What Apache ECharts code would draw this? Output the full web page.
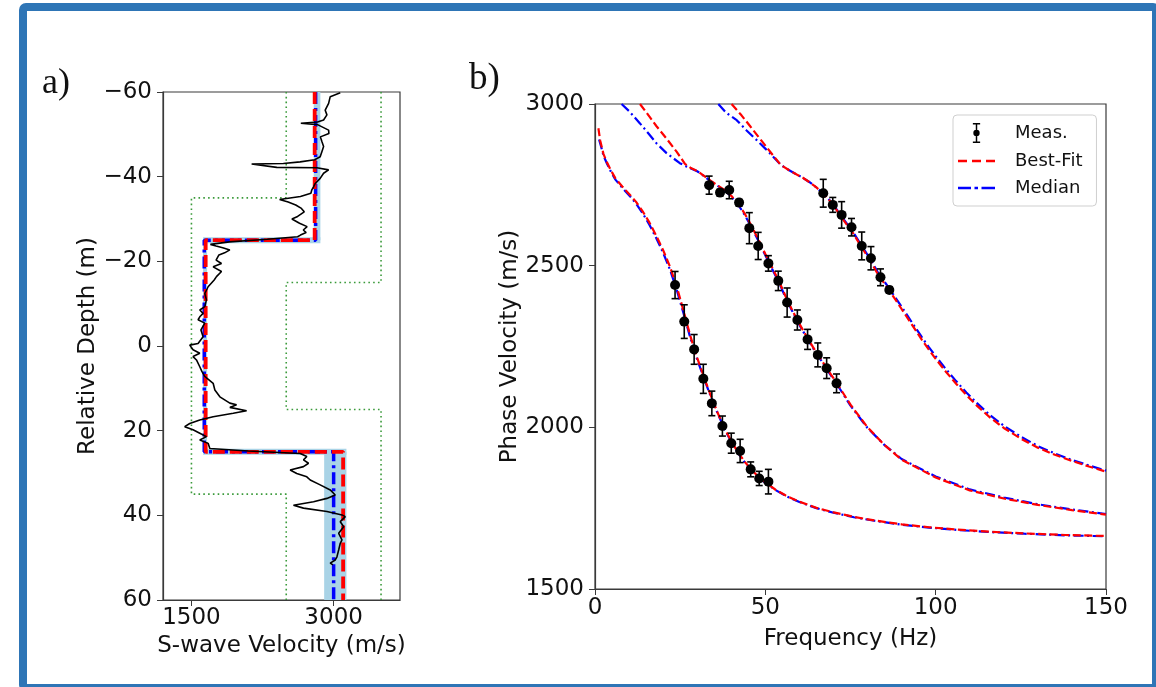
<!DOCTYPE html>
<html><head><meta charset="utf-8">
<script src="https://cdn.jsdelivr.net/npm/echarts@6/dist/echarts.min.js"></script>
<style>
html,body{margin:0;padding:0;background:#fff;}
#chart{position:absolute;left:0;top:0;width:1156px;height:687px;}
#frame{position:absolute;left:19px;top:3px;width:1141px;height:689px;box-sizing:border-box;border:8px solid #2E75B6;border-radius:7px;pointer-events:none;}
</style></head>
<body><div id="chart"></div><div id="frame"></div>
<script>
// ---------- Panel a data ----------
const depthTicks = [-60, -40, -20, 0, 20, 40, 60];
const velTicks = [1500, 3000];
const lowerBoundDepth = [-60, -35, 35, 60];
const lowerBoundVel = [2500, 1500, 2500];
const upperBoundDepth = [-60, -15, 15, 60];
const upperBoundVel = [3500, 2500, 3500];
const layerDepth = [-60, -25, 25, 60];
const bestFitVs = [2800, 1650, 3100];
const medianVs = [2810, 1635, 3000];
const bandVsMin = [2790, 1623, 2900];
const bandVsMax = [2860, 1665, 3135];
const bandBoundaryHalf = [0.7, 0.7];
const logDepth = [
-59.8, -58.9, -57.3, -55.7, -54.6, -53.4, -52.9, -52.6, -52.3, -51.0,
-50.2, -49.4, -48.3, -47.1, -45.9, -44.7, -44.0, -43.5, -43.1, -43.0,
-42.6, -42.2, -42.1, -41.6, -40.8, -39.6, -38.4, -37.6, -36.9, -36.1,
-35.3, -34.6, -34.0, -33.3, -32.5, -31.7, -30.6, -30.0, -29.0, -28.2,
-27.4, -26.8, -26.2, -25.8, -25.2, -24.6, -24.0, -23.6, -23.2, -22.7,
-22.0, -21.5, -20.3, -19.5, -18.7, -17.6, -16.4, -15.6, -14.0, -12.4,
-10.9, -9.3, -8.5, -7.7, -6.9, -6.2, -5.4, -3.8, -2.2, -0.6,
-0.2, 0.9, 1.7, 2.5, 3.3, 4.9, 6.0, 7.2, 8.8, 10.4,
12.0, 13.5, 13.9, 14.5, 15.3, 15.9, 16.7, 17.5, 18.3, 19.05,
19.8, 20.6, 21.4, 22.2, 23.0, 24.2, 24.8, 25.4, 26.1, 26.9,
27.7, 28.5, 29.3, 30.1, 30.9, 31.65, 32.8, 34.0, 35.2, 36.0,
36.8, 37.6, 38.3, 39.1, 39.9, 40.3, 41.5, 42.7, 44.25, 45.8,
46.6, 48.2, 49.8, 50.55, 51.3, 51.7];
const logVs = [
3070, 2964, 2947, 2911, 2929, 2894, 2830, 2654, 2830, 2947,
2950, 2860, 2876, 2894, 2876, 2858, 2800, 2647, 2470, 2135,
2135, 2400, 2823, 2947, 2894, 2858, 2806, 2788, 2770, 2760,
2650, 2430, 2520, 2600, 2660, 2690, 2620, 2560, 2640, 2720,
2680, 2710, 2650, 2620, 2300, 1900, 1700, 1760, 1830, 1905,
1850, 1790, 1760, 1817, 1729, 1817, 1764, 1740, 1676, 1641,
1658, 1641, 1588, 1623, 1588, 1570, 1641, 1600, 1623, 1570,
1482, 1517, 1588, 1517, 1553, 1588, 1610, 1640, 1729, 1747,
1800, 1905, 1976, 1905, 2082, 1941, 1729, 1588, 1482, 1429,
1517, 1588, 1658, 1588, 1676, 1694, 2100, 2647, 2717, 2682,
2735, 2682, 2541, 2611, 2717, 2753, 2858, 2964, 3017, 2929,
2788, 2576, 2682, 2929, 3088, 3123, 3070, 3106, 3053, 3088,
3070, 3053, 3035, 3017, 2964, 2993];

// ---------- Panel b data ----------
const freqTicks = [0, 50, 100, 150];
const phaseVelTicks = [1500, 2000, 2500, 3000];
const mode0FitFreq = [1.0, 1.5, 2.5, 3.5, 4.5, 6, 8, 10, 12, 14, 16, 18, 20, 22, 24, 26, 28, 30, 32, 34, 36, 38, 40, 42, 44, 46, 48, 50, 53, 56, 60, 65, 70, 76, 82, 90, 98, 106, 116, 126, 138, 150];
const mode0Fit = [2925, 2888, 2845, 2820, 2798, 2770, 2745, 2722, 2698, 2668, 2633, 2592, 2548, 2497, 2435, 2360, 2282, 2215, 2155, 2098, 2045, 1998, 1957, 1922, 1893, 1868, 1847, 1830, 1807, 1789, 1770, 1751, 1737, 1723, 1712, 1700, 1691, 1684, 1677, 1672, 1667, 1664];
const mode0MedFreq = [1.2, 1.8, 2.5, 3.5, 4.5, 6, 8, 10, 12, 14, 16, 18, 20, 22, 24, 26, 28, 30, 32, 34, 36, 38, 40, 42, 44, 46, 48, 50, 53, 56, 60, 65, 70, 76, 82, 90, 98, 106, 116, 126, 138, 150];
const mode0Med = [2890, 2868, 2840, 2816, 2794, 2766, 2741, 2718, 2693, 2662, 2626, 2585, 2540, 2488, 2425, 2352, 2276, 2210, 2151, 2095, 2043, 1996, 1955, 1920, 1891, 1866, 1845, 1828, 1806, 1788, 1769, 1750, 1736, 1722, 1711, 1699, 1690, 1683, 1676, 1671, 1666, 1663];
const mode1FitFreq = [13.2, 15, 18, 21, 24, 26.4, 28, 30, 32, 34, 36, 38, 40, 42, 44, 46, 48, 50, 52, 54, 56, 58, 60, 62, 64, 66, 68, 70, 72, 75, 80, 85, 90, 100, 110, 120, 130, 140, 150];
const mode1Fit = [3000, 2975, 2932, 2893, 2852, 2815, 2803, 2793, 2778, 2762, 2748, 2734, 2716, 2692, 2660, 2622, 2580, 2536, 2494, 2452, 2404, 2360, 2320, 2283, 2248, 2216, 2183, 2152, 2120, 2070, 2000, 1945, 1900, 1845, 1805, 1780, 1760, 1744, 1730];
const mode1MedFreq = [7.8, 10, 13.2, 16, 18.1, 21, 24.9, 27, 30, 32, 34, 36, 38, 40, 42, 44, 46, 48, 50, 52, 54, 56, 58, 60, 62, 64, 66, 68, 70, 72, 75, 80, 85, 90, 100, 110, 120, 130, 140, 150];
const mode1Med = [3000, 2978, 2940, 2905, 2878, 2848, 2817, 2806, 2792, 2777, 2761, 2747, 2733, 2714, 2689, 2656, 2618, 2576, 2532, 2490, 2448, 2400, 2357, 2317, 2280, 2245, 2213, 2180, 2149, 2117, 2067, 1998, 1945, 1902, 1848, 1808, 1783, 1762, 1746, 1732];
const mode2FitFreq = [40.1, 43, 45.5, 48, 50.4, 52.5, 54.5, 57, 59.2, 61, 63, 65, 67, 69, 71, 73, 75.8, 78, 80.7, 83, 85.6, 88, 90, 92, 94, 96, 98, 100, 103, 106, 109, 112, 116, 120, 125, 130, 135, 140, 145, 150];
const mode2Fit = [3000, 2965, 2932, 2898, 2866, 2838, 2812, 2795, 2782, 2772, 2758, 2742, 2723, 2700, 2671, 2640, 2600, 2561, 2517, 2474, 2435, 2398, 2366, 2334, 2302, 2270, 2240, 2212, 2172, 2135, 2100, 2068, 2030, 1998, 1965, 1937, 1915, 1896, 1879, 1863];
const mode2MedFreq = [36.2, 38.5, 41.6, 44.5, 47.5, 50, 52.3, 54.5, 57, 59.2, 61, 63, 65, 67, 69, 71, 73, 75.8, 78, 80.7, 83, 85.6, 88, 90, 92, 94, 96, 98, 100, 103, 106, 109, 112, 116, 120, 125, 130, 135, 140, 145, 150];
const mode2Med = [3000, 2973, 2950, 2918, 2888, 2862, 2837, 2812, 2795, 2782, 2772, 2758, 2742, 2723, 2701, 2673, 2643, 2604, 2566, 2522, 2480, 2441, 2404, 2373, 2341, 2309, 2278, 2248, 2220, 2180, 2143, 2108, 2076, 2037, 2005, 1971, 1942, 1919, 1899, 1882, 1866];
const meas0Freq = [23.5, 26.2, 29.1, 31.8, 34.3, 37.4, 40.0, 42.6, 45.7, 48.2, 50.9];
const meas0Vel = [2440, 2327, 2241, 2150, 2074, 2004, 1951, 1927, 1870, 1842, 1832];
const meas0Err = [42, 52, 46, 45, 38, 31, 31, 36, 23, 22, 38];
const meas1Freq = [33.5, 36.7, 39.4, 42.3, 45.3, 47.9, 50.9, 53.8, 56.4, 59.4, 62.4, 65.4, 68.0, 70.9];
const meas1Vel = [2749, 2726, 2734, 2695, 2616, 2561, 2507, 2453, 2386, 2332, 2272, 2224, 2183, 2136];
const meas1Err = [28, 10, 27, 10, 48, 42, 24, 30, 45, 31, 31, 37, 32, 29];
const meas2Freq = [67.0, 69.8, 72.4, 75.3, 78.3, 81.0, 83.8, 86.4];
const meas2Vel = [2724, 2688, 2657, 2619, 2561, 2523, 2464, 2425];
const meas2Err = [43, 23, 41, 27, 43, 36, 26, 10];

// ---------- helpers ----------
const FONT = 'DejaVu Sans';
function stepData(depths, vels) {
  const out = [];
  for (let i = 0; i < vels.length; i++) { out.push([vels[i], depths[i]]); out.push([vels[i], depths[i + 1]]); }
  return out;
}
function zip(a, b) { return a.map((v, i) => [v, b[i]]); }
function zip3(a, b, c) { return a.map((v, i) => [v, b[i], c[i]]); }
const bandRects = [];
for (let i = 0; i < bandVsMin.length; i++) bandRects.push([bandVsMin[i], bandVsMax[i], layerDepth[i], layerDepth[i + 1]]);
for (let j = 1; j < layerDepth.length - 1; j++) {
  const lo = Math.min(bandVsMin[j - 1], bandVsMin[j]), hi = Math.max(bandVsMax[j - 1], bandVsMax[j]);
  bandRects.push([lo, hi, layerDepth[j] - bandBoundaryHalf[j - 1], layerDepth[j] + bandBoundaryHalf[j - 1]]);
}
const measAll = zip3(meas0Freq, meas0Vel, meas0Err).concat(zip3(meas1Freq, meas1Vel, meas1Err), zip3(meas2Freq, meas2Vel, meas2Err));

const axisCol = '#3a3a3a';
const lbl = { fontFamily: FONT, fontSize: 23, color: '#111' };
const plain = v => (v < 0 ? '\u2212' + Math.abs(v) : String(v));
const fitStyleB = { color: '#ff0000', width: 2.2, type: [8, 3.5] };
const medStyleB = { color: '#0000ff', width: 2.2, type: [10, 3.5, 2, 3.5] };
const measIcon = 'path://M0,0H8V1.6H0Z M3.2,0H4.8V22H3.2Z M0,20.4H8V22H0Z M0.5,11A3.5,3.5,0,1,1,7.5,11A3.5,3.5,0,1,1,0.5,11Z';
const fitIcon = 'path://M0,0H9V2.6H0Z M14,0H23V2.6H14Z M28,0H37V2.6H28Z';
const medIcon = 'path://M0,0H13V2.6H0Z M16.5,0H20V2.6H16.5Z M23.5,0H37V2.6H23.5Z';

const chart = echarts.init(document.getElementById('chart'), null, { renderer: 'canvas' });
const axisLineSty = { show: true, onZero: false, lineStyle: { color: axisCol, width: 1.2 } };
const option = {
  animation: false,
  backgroundColor: '#fff',
  graphic: [
    { type: 'text', left: 42, top: 66, style: { text: 'a)', font: '36px "Liberation Serif"', fill: '#111' } },
    { type: 'text', left: 469, top: 61, style: { text: 'b)', font: '37px "Liberation Serif"', fill: '#111' } }
  ],
  grid: [
    { left: 163, top: 92, width: 237, height: 508, show: true, borderColor: axisCol, borderWidth: 1.2, backgroundColor: 'transparent' },
    { left: 595, top: 104, width: 511, height: 485, show: true, borderColor: axisCol, borderWidth: 1.2, backgroundColor: 'transparent' }
  ],
  xAxis: [
    { gridIndex: 0, type: 'value', min: 1200, max: 3700,
      axisLine: axisLineSty,
      axisTick: { show: true, length: 6, customValues: velTicks, lineStyle: { color: axisCol } },
      axisLabel: Object.assign({ customValues: velTicks, margin: 7, formatter: plain }, lbl),
      splitLine: { show: false },
      name: 'S-wave Velocity (m/s)', nameLocation: 'middle', nameGap: 28, nameTextStyle: lbl },
    { gridIndex: 1, type: 'value', min: freqTicks[0], max: freqTicks[freqTicks.length - 1], interval: 50,
      axisLine: axisLineSty,
      axisTick: { show: true, length: 6, lineStyle: { color: axisCol } },
      axisLabel: Object.assign({ margin: 8, showMinLabel: true, showMaxLabel: true, formatter: plain }, lbl),
      splitLine: { show: false },
      name: 'Frequency (Hz)', nameLocation: 'middle', nameGap: 39, nameTextStyle: lbl }
  ],
  yAxis: [
    { gridIndex: 0, type: 'value', inverse: true, min: depthTicks[0], max: depthTicks[depthTicks.length - 1], interval: 20,
      axisLine: axisLineSty,
      axisTick: { show: true, length: 6, lineStyle: { color: axisCol } },
      axisLabel: Object.assign({ margin: 11, showMinLabel: true, showMaxLabel: true, formatter: plain }, lbl),
      splitLine: { show: false },
      name: 'Relative Depth (m)', nameLocation: 'middle', nameGap: 62, nameTextStyle: lbl },
    { gridIndex: 1, type: 'value', min: phaseVelTicks[0], max: phaseVelTicks[phaseVelTicks.length - 1], interval: 500,
      axisLine: axisLineSty,
      axisTick: { show: true, length: 6, lineStyle: { color: axisCol } },
      axisLabel: Object.assign({ margin: 11, showMinLabel: true, showMaxLabel: true, formatter: plain }, lbl),
      splitLine: { show: false },
      name: 'Phase Velocity (m/s)', nameLocation: 'middle', nameGap: 71, nameTextStyle: lbl }
  ],
  legend: {
    left: 953, top: 115, orient: 'vertical', padding: [8, 14, 9, 5], itemGap: 9, itemWidth: 37, itemHeight: 20,
    backgroundColor: '#fff', borderColor: '#cfcfcf', borderWidth: 1, borderRadius: 4, selectedMode: false,
    textStyle: { fontFamily: FONT, fontSize: 18, color: '#111', padding: [0, 0, 0, 15] },
    data: [{ name: 'Meas.', icon: measIcon }, { name: 'Best-Fit', icon: fitIcon }, { name: 'Median', icon: medIcon }]
  },
  series: [
    // ----- panel a -----
    { type: 'line', name: 'a-lower', xAxisIndex: 0, yAxisIndex: 0, data: stepData(lowerBoundDepth, lowerBoundVel), symbol: 'none',
      lineStyle: { color: '#3a9a3a', width: 1.6, type: [1.6, 3.2] }, z: 2 },
    { type: 'line', name: 'a-upper', xAxisIndex: 0, yAxisIndex: 0, data: stepData(upperBoundDepth, upperBoundVel), symbol: 'none',
      lineStyle: { color: '#3a9a3a', width: 1.6, type: [1.6, 3.2] }, z: 2 },
    { type: 'custom', name: 'a-band', xAxisIndex: 0, yAxisIndex: 0, data: bandRects, encode: { x: [0, 1], y: [2, 3] }, z: 1,
      renderItem: (params, api) => {
        const a = api.coord([api.value(0), api.value(2)]);
        const b = api.coord([api.value(1), api.value(3)]);
        return { type: 'rect', shape: { x: Math.min(a[0], b[0]), y: Math.min(a[1], b[1]), width: Math.abs(b[0] - a[0]), height: Math.abs(b[1] - a[1]) },
          style: { fill: '#a9d3e6' } };
      } },
    { type: 'line', name: 'a-median', xAxisIndex: 0, yAxisIndex: 0, data: stepData(layerDepth, medianVs), symbol: 'none',
      lineStyle: { color: '#0000ff', width: 3.5, type: [12, 4, 3, 4] }, z: 3 },
    { type: 'line', name: 'a-fit', xAxisIndex: 0, yAxisIndex: 0, data: stepData(layerDepth, bestFitVs), symbol: 'none',
      lineStyle: { color: '#ff0000', width: 3.8, type: [12, 5] }, z: 4 },
    { type: 'line', name: 'a-log', xAxisIndex: 0, yAxisIndex: 0, data: zip(logVs, logDepth), symbol: 'none',
      lineStyle: { color: '#000', width: 1.6 }, z: 5 },
    // ----- panel b -----
    { type: 'line', name: 'Median', xAxisIndex: 1, yAxisIndex: 1, data: zip(mode0MedFreq, mode0Med), symbol: 'none', lineStyle: medStyleB, itemStyle: { color: '#0000ff' }, z: 3 },
    { type: 'line', name: 'Median', xAxisIndex: 1, yAxisIndex: 1, data: zip(mode1MedFreq, mode1Med), symbol: 'none', lineStyle: medStyleB, itemStyle: { color: '#0000ff' }, z: 3 },
    { type: 'line', name: 'Median', xAxisIndex: 1, yAxisIndex: 1, data: zip(mode2MedFreq, mode2Med), symbol: 'none', lineStyle: medStyleB, itemStyle: { color: '#0000ff' }, z: 3 },
    { type: 'line', name: 'Best-Fit', xAxisIndex: 1, yAxisIndex: 1, data: zip(mode0FitFreq, mode0Fit), symbol: 'none', lineStyle: fitStyleB, itemStyle: { color: '#ff0000' }, z: 4 },
    { type: 'line', name: 'Best-Fit', xAxisIndex: 1, yAxisIndex: 1, data: zip(mode1FitFreq, mode1Fit), symbol: 'none', lineStyle: fitStyleB, itemStyle: { color: '#ff0000' }, z: 4 },
    { type: 'line', name: 'Best-Fit', xAxisIndex: 1, yAxisIndex: 1, data: zip(mode2FitFreq, mode2Fit), symbol: 'none', lineStyle: fitStyleB, itemStyle: { color: '#ff0000' }, z: 4 },
    { type: 'scatter', name: 'Meas.', xAxisIndex: 1, yAxisIndex: 1, data: measAll.map(d => [d[0], d[1]]), symbol: 'circle', symbolSize: 10,
      itemStyle: { color: '#000', opacity: 1 }, z: 6 },
    { type: 'custom', name: 'Meas.', xAxisIndex: 1, yAxisIndex: 1, data: measAll, encode: { x: 0, y: 1 }, z: 5,
      itemStyle: { color: '#000' },
      renderItem: (params, api) => {
        const f = api.value(0), v = api.value(1), e = api.value(2);
        const t = api.coord([f, v + e]), b = api.coord([f, v - e]);
        const c = 3.5, st = { stroke: '#000', lineWidth: 1.6 };
        return { type: 'group', children: [
          { type: 'line', shape: { x1: t[0], y1: t[1], x2: b[0], y2: b[1] }, style: st },
          { type: 'line', shape: { x1: t[0] - c, y1: t[1], x2: t[0] + c, y2: t[1] }, style: st },
          { type: 'line', shape: { x1: b[0] - c, y1: b[1], x2: b[0] + c, y2: b[1] }, style: st }
        ] };
      } }
  ]
};
chart.setOption(option);
</script></body></html>
